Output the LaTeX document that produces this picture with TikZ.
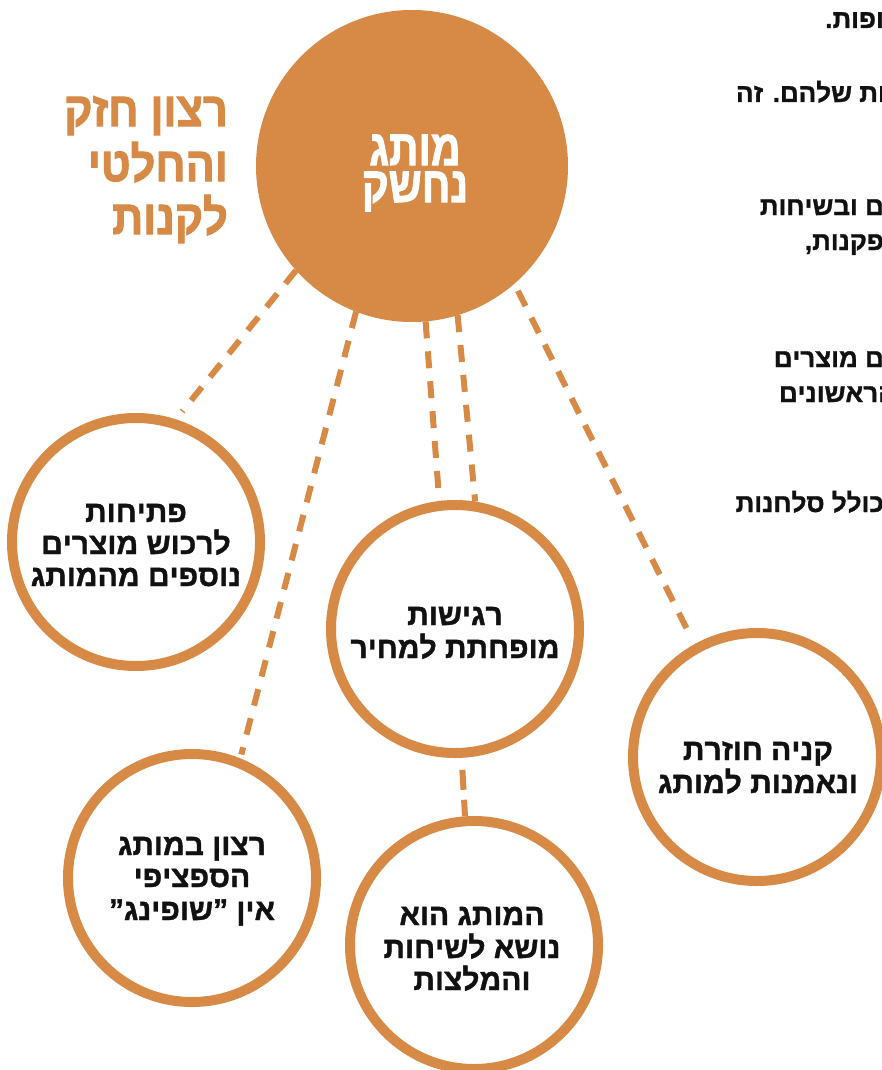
\documentclass[tikz,border=0pt]{standalone}
\usepackage{fontspec}
\setmainfont{Liberation Sans}
\newfontfamily\hebbold{Liberation Sans Bold}[FakeBold=1.2]
\newfontfamily\hebheavy{Liberation Sans Bold}[FakeBold=2.2]
\TeXXeTstate=1
\definecolor{brand}{RGB}{214,138,70}
\definecolor{ink}{RGB}{17,17,17}
\tikzset{
  hub/.style={circle, fill=brand, minimum size=312pt, inner sep=0pt, outer sep=0pt},
  ring/.style={circle, draw=brand, fill=white, line width=10pt, minimum size=248pt, inner sep=0pt},
  link/.style={draw=brand, line width=6pt, dash pattern=on 17pt off 13pt},
  body/.style={font=\hebbold\fontsize{30}{34}\selectfont, text=ink, anchor=base, inner sep=0pt},
  side/.style={font=\hebbold\fontsize{26}{34}\selectfont, text=ink, anchor=base east, inner sep=0pt},
  hubtext/.style={font=\hebheavy\fontsize{50}{50}\selectfont, text=white, anchor=base, inner sep=0pt, xscale=0.82},
  title/.style={font=\hebheavy\fontsize{48}{50}\selectfont, text=brand, anchor=base east, inner sep=0pt, xscale=0.9}
}
\begin{document}
\begin{tikzpicture}[x=1pt,y=-1pt]
\useasboundingbox (0,0) rectangle (882,1070);
\clip (0,0) rectangle (882,1070);
\fill[white] (0,0) rectangle (882,1070);

% side text fragments (cut at right edge)
\node[side] (s1) at (884,28) {\beginR ופות.\endR};
\node[side] (s2) at (886,102) {\beginR ות שלהם. זה\endR};
\node[side] (s3) at (884,215) {\beginR ם ובשיחות\endR};
\node[side] (s4) at (884,250) {\beginR פקנות,\endR};
\node[side] (s5) at (884,367) {\beginR ם מוצרים\endR};
\node[side] (s6) at (896,402) {\beginR הראשונים\endR};
\node[side] (s7) at (884,512) {\beginR כולל סלחנות\endR};

% circles
\node[hub] (main) at (412,166) {};
\node[ring] (c1) at (136,542) {};
\node[ring] (c2) at (455,629) {};
\node[ring] (c3) at (757,757) {};
\node[ring] (c4) at (192,878) {};
\node[ring] (c5) at (474,945) {};

% connectors
\draw[link, shorten >=10pt] (main.222) -- (c1.72);
\draw[link, shorten >=4pt] (main.249) -- (c4.68);
\draw[link] (main.275) -- (c2.97);
\draw[link] (main.287) -- (c2.81);
\draw[link, shorten <=8pt, shorten >=12pt] (main.311) -- (c3.119);
\draw[link, shorten <=12pt, dash pattern=on 20pt off 10pt] (c2.273) -- (c5.94);

% hub text
\node[hubtext] (h1) at (415,165) {\beginR מותג\endR};
\node[hubtext] (h2) at (415,202) {\beginR נחשק\endR};

% title
\node[title] (t1) at (228,126) {\beginR רצון חזק\endR};
\node[title] (t2) at (228,181) {\beginR והחלטי\endR};
\node[title] (t3) at (228,234) {\beginR לקנות\endR};

% circle texts
\node[body] (a1) at (136,522) {\beginR פתיחות\endR};
\node[body] (a2) at (136,554) {\beginR לרכוש מוצרים\endR};
\node[body] (a3) at (136,586) {\beginR נוספים מהמותג\endR};

\node[body] (b1) at (455,625) {\beginR רגישות\endR};
\node[body] (b2) at (455,658) {\beginR מופחתת למחיר\endR};

\node[body] (d1) at (758,760) {\beginR קניה חוזרת\endR};
\node[body] (d2) at (758,793) {\beginR ונאמנות למותג\endR};

\node[body] (e1) at (192,855) {\beginR רצון במותג\endR};
\node[body] (e2) at (192,887) {\beginR הספציפי\endR};
\node[body] (e3) at (192,920) {\beginR אין ”שופינג”\endR};

\node[body] (f1) at (472,925) {\beginR המותג הוא\endR};
\node[body] (f2) at (472,958) {\beginR נושא לשיחות\endR};
\node[body] (f3) at (472,990) {\beginR והמלצות\endR};
\end{tikzpicture}
\end{document}
